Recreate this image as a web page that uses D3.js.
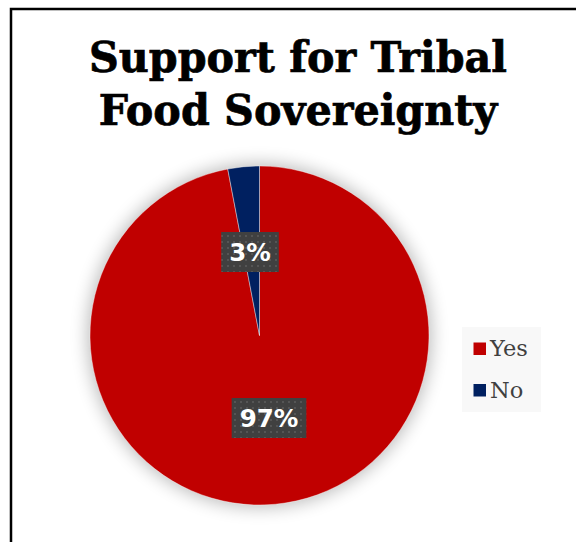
<!DOCTYPE html>
<html>
<head>
<meta charset="utf-8">
<script src="https://cdn.jsdelivr.net/npm/d3@7"></script>
<style>
  html, body { margin: 0; padding: 0; background: #ffffff; }
  svg { display: block; }
</style>
</head>
<body>
<svg id="chart" width="576" height="542"></svg>
<script>
// Survey responses
const categories = ["Yes", "No"];
const values = [97, 3];
const colors = ["#C00000", "#002060"];
const titleLines = ["Support for Tribal", "Food Sovereignty"];

const svg = d3.select("#chart");

// Chart frame
svg.append("rect")
  .attr("x", 11).attr("y", 9)
  .attr("width", 600).attr("height", 600)
  .attr("fill", "#ffffff")
  .attr("stroke", "#000000")
  .attr("stroke-width", 2.5);

const defs = svg.append("defs");

// Soft glow behind the pie
const glow = defs.append("filter").attr("id", "glow")
  .attr("x", "-30%").attr("y", "-30%").attr("width", "160%").attr("height", "160%");
glow.append("feGaussianBlur").attr("in", "SourceGraphic").attr("stdDeviation", 9);

// Dotted fill for the data label boxes
const pat = defs.append("pattern").attr("id", "dots")
  .attr("patternUnits", "userSpaceOnUse")
  .attr("width", 6).attr("height", 6);
pat.append("rect").attr("width", 6).attr("height", 6).attr("fill", "#404040");
pat.append("rect").attr("x", 1).attr("y", 1).attr("width", 2).attr("height", 2).attr("fill", "#555555");

// Title: two centred lines, fitted to width and stretched slightly taller
const baseFs = 40, capRatio = 0.729, targetCap = 31;
const titleBaselines = [72, 125];
const title = svg.append("g");
const tNodes = titleLines.map((line, i) =>
  title.append("text")
    .attr("text-anchor", "middle")
    .attr("font-family", "'DejaVu Serif', serif")
    .attr("font-weight", "bold")
    .attr("font-size", baseFs)
    .attr("fill", "#000000")
    .attr("stroke", "#000000")
    .attr("stroke-width", 0.7)
    .text(line));
const w0 = tNodes[0].node().getComputedTextLength();
const fs = baseFs * 418 / w0;
const sy = targetCap / (fs * capRatio);
tNodes.forEach((t, i) => {
  t.attr("font-size", fs)
   .attr("transform", `translate(298,${titleBaselines[i]}) scale(1,${sy})`);
});

// Pie
const cx = 259.5, cy = 335.5, r = 169.5;
const g = svg.append("g").attr("transform", `translate(${cx},${cy})`);

g.append("circle")
  .attr("r", r + 2)
  .attr("fill", "#000000")
  .attr("opacity", 0.28)
  .attr("filter", "url(#glow)");

const data = categories.map((c, i) => ({ label: c, value: values[i], color: colors[i] }));
const pie = d3.pie().sort(null).value(d => d.value);
const arcs = pie(data);
const arc = d3.arc().innerRadius(0).outerRadius(r);

g.selectAll("path.slice")
  .data(arcs)
  .enter().append("path")
  .attr("class", "slice")
  .attr("d", arc)
  .attr("fill", d => d.data.color)
  .attr("stroke", "#ffffff")
  .attr("stroke-opacity", 0.5)
  .attr("stroke-width", 0.8);

// Data labels
const total = d3.sum(values);
const labelPos = [
  { x: 9.5, y: 82.5 },   // Yes
  { x: -9.5, y: -83.5 }  // No
];
arcs.forEach((a, i) => {
  const txt = Math.round(a.data.value / total * 100) + "%";
  const lg = g.append("g").attr("transform", `translate(${labelPos[i].x},${labelPos[i].y})`);
  const t = lg.append("text")
    .attr("text-anchor", "middle")
    .attr("dy", "0.36em")
    .attr("font-family", "'DejaVu Sans', Verdana, sans-serif")
    .attr("font-weight", "bold")
    .attr("font-size", 24.5)
    .attr("fill", "#ffffff")
    .text(txt);
  const bb = t.node().getBBox();
  lg.insert("rect", "text")
    .attr("x", bb.x - 8).attr("y", -20)
    .attr("width", bb.width + 16).attr("height", 40)
    .attr("fill", "url(#dots)");
});

// Legend
const legend = svg.append("g");
legend.append("rect")
  .attr("x", 462).attr("y", 327)
  .attr("width", 79).attr("height", 85)
  .attr("fill", "#f8f8f8");
categories.forEach((c, i) => {
  const base = 356 + i * 41.5;
  legend.append("rect")
    .attr("x", 473.5).attr("y", base - 13.5)
    .attr("width", 12.5).attr("height", 12.5)
    .attr("fill", colors[i]);
  legend.append("text")
    .attr("x", 490).attr("y", base)
    .attr("font-family", "'DejaVu Serif', serif")
    .attr("font-size", 22.5)
    .attr("fill", "#404040")
    .text(c);
});
</script>
</body>
</html>
